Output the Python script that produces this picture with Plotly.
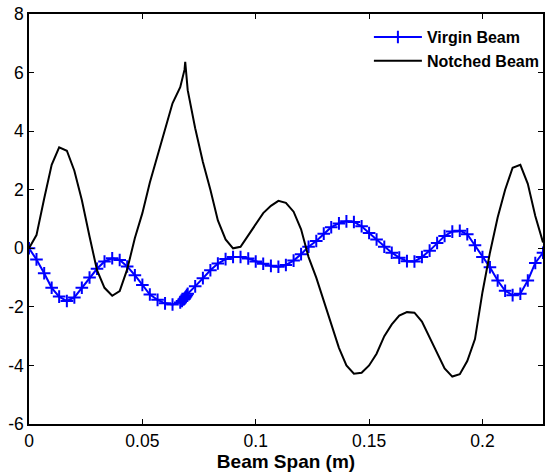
import plotly.graph_objects as go

# Node positions along the beam (m), refined around the notch near 0.069 m
span_x = [
    0.0000, 0.0033, 0.0067, 0.0100, 0.0133, 0.0167, 0.0200, 0.0233, 0.0267, 0.0300,
    0.0333, 0.0367, 0.0400, 0.0433, 0.0467, 0.0500, 0.0533, 0.0567, 0.0600, 0.0633,
    0.0667, 0.0675, 0.0682, 0.0686, 0.0689, 0.0692, 0.0696,
    0.0700, 0.0733, 0.0767, 0.0800, 0.0833, 0.0867, 0.0900, 0.0933, 0.0967,
    0.1000, 0.1033, 0.1067, 0.1100, 0.1133, 0.1167, 0.1200, 0.1233, 0.1267, 0.1300,
    0.1333, 0.1367, 0.1400, 0.1433, 0.1467, 0.1500, 0.1533, 0.1567, 0.1600, 0.1633,
    0.1667, 0.1700, 0.1733, 0.1767, 0.1800, 0.1833, 0.1867, 0.1900, 0.1933, 0.1967,
    0.2000, 0.2033, 0.2067, 0.2100, 0.2133, 0.2167, 0.2200, 0.2233, 0.2267,
]

virgin_beam = [
    0.00, -0.38, -0.85, -1.35, -1.65, -1.80, -1.68, -1.35, -1.00, -0.70,
    -0.45, -0.34, -0.40, -0.62, -0.92, -1.25, -1.58, -1.76, -1.88, -1.92,
    -1.85, -1.80, -1.75, -1.72, -1.68, -1.65, -1.60,
    -1.55, -1.30, -1.02, -0.75, -0.52, -0.37, -0.30, -0.30, -0.35,
    -0.45, -0.53, -0.60, -0.63, -0.57, -0.42, -0.20, 0.05, 0.25, 0.50,
    0.72, 0.85, 0.92, 0.90, 0.75, 0.52, 0.30, 0.05, -0.15, -0.32,
    -0.44, -0.45, -0.30, -0.08, 0.18, 0.42, 0.57, 0.60, 0.48, 0.10,
    -0.30, -0.65, -1.10, -1.45, -1.60, -1.55, -1.10, -0.50, -0.15,
]

notched_beam = [
    0.00, 0.45, 1.70, 2.85, 3.45, 3.33, 2.65, 1.65, 0.40, -0.75,
    -1.35, -1.62, -1.46, -0.72, 0.35, 1.20, 2.25, 3.15, 4.05, 4.95,
    5.50, 5.75, 5.95, 6.10, 6.37, 6.00, 5.70,
    5.40, 4.10, 2.95, 2.00, 0.95, 0.30, 0.00, 0.05, 0.45,
    0.85, 1.20, 1.45, 1.62, 1.55, 1.25, 0.65, -0.30, -1.00, -1.80,
    -2.57, -3.40, -4.00, -4.28, -4.25, -4.00, -3.60, -3.00, -2.60, -2.30,
    -2.18, -2.20, -2.50, -3.05, -3.60, -4.10, -4.38, -4.30, -3.85, -3.10,
    -1.50, -0.15, 1.05, 2.00, 2.75, 2.85, 2.20, 1.10, 0.20,
]

x_ticks = [0, 0.05, 0.1, 0.15, 0.2]
x_tick_text = ["0", "0.05", "0.1", "0.15", "0.2"]
y_ticks = [-6, -4, -2, 0, 2, 4, 6, 8]
y_tick_text = ["-6", "-4", "-2", "0", "2", "4", "6", "8"]

FONT = "Liberation Sans, Arial, Helvetica, sans-serif"

fig = go.Figure()
fig.add_trace(go.Scatter(
    x=span_x, y=virgin_beam, name="Virgin Beam",
    mode="lines+markers",
    line=dict(color="#0000ff", width=2),
    marker=dict(symbol="cross-thin", size=9, color="#0000ff",
                line=dict(color="#0000ff", width=2)),
))
fig.add_trace(go.Scatter(
    x=span_x, y=notched_beam, name="Notched Beam",
    mode="lines",
    line=dict(color="#000000", width=2),
))

axis_common = dict(
    showline=True, linecolor="black", linewidth=1.5, mirror="ticks",
    ticks="inside", ticklen=5, tickwidth=1, tickcolor="black",
    showgrid=False, zeroline=False,
    tickfont=dict(family=FONT, size=17.5, color="black"),
)

fig.update_layout(
    width=548, height=476,
    margin=dict(l=29, r=4, t=14, b=52),
    paper_bgcolor="white", plot_bgcolor="white",
    font=dict(family=FONT, color="black"),
    showlegend=True,
    legend=dict(
        x=0.66, y=0.985, xanchor="left", yanchor="top",
        bgcolor="rgba(0,0,0,0)", borderwidth=0,
        font=dict(family=FONT, size=16, color="black", weight="bold"),
        itemwidth=48, tracegroupgap=0,
    ),
    xaxis=dict(
        range=[0, 0.2267], tickvals=x_ticks, ticktext=x_tick_text,
        title=dict(text="<b>Beam Span (m)</b>", standoff=5,
                   font=dict(family=FONT, size=19, color="black")),
        **axis_common,
    ),
    yaxis=dict(
        range=[-6, 8], tickvals=y_ticks, ticktext=y_tick_text,
        **axis_common,
    ),
)

fig.write_html("out.html")
